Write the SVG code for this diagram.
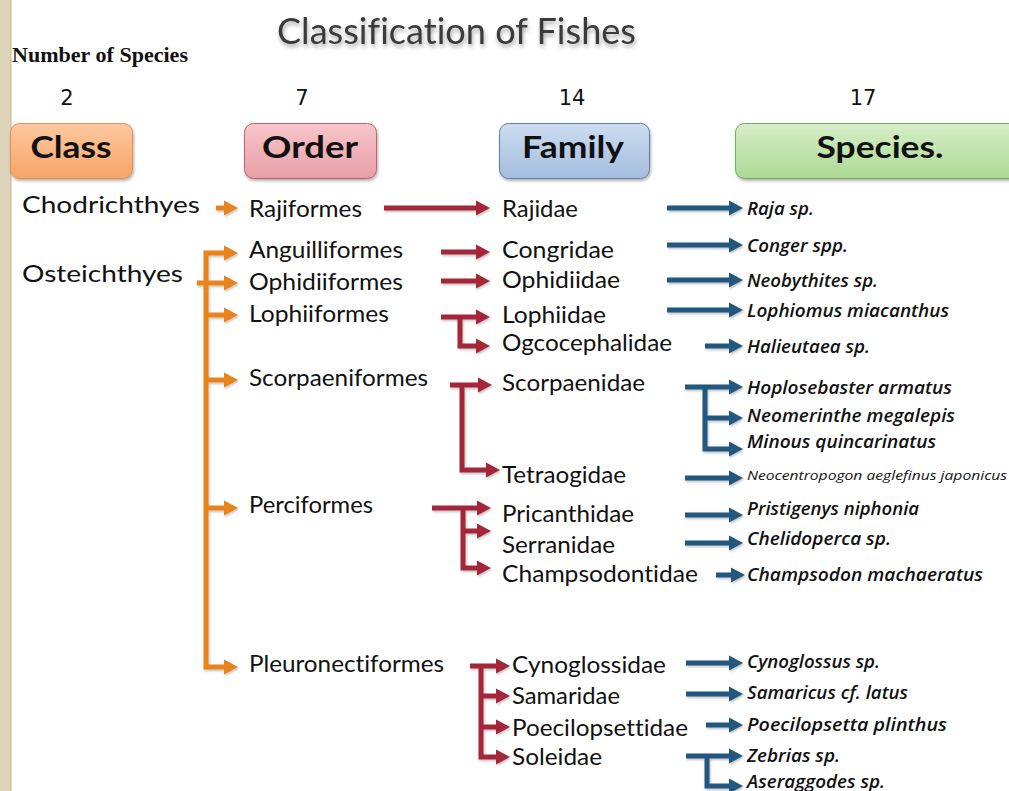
<svg xmlns="http://www.w3.org/2000/svg" width="1009" height="791" viewBox="0 0 1009 791">
<defs>
<style>
text{font-variant-ligatures:none;font-feature-settings:"liga" 0,"clig" 0}
.t{font-family:Lato,"Liberation Sans",sans-serif;font-size:24px;fill:#111}
.sp{font-family:"Open Sans","Liberation Sans",sans-serif;font-style:italic;font-weight:600;font-size:18px;fill:#111}
.hd{font-family:Lato,"Liberation Sans",sans-serif;font-weight:bold;font-size:30px;fill:#111;text-anchor:middle}
.num{font-family:"DejaVu Sans","Liberation Sans",sans-serif;font-size:21px;fill:#111;text-anchor:middle}
.o,.r,.b{fill:none;stroke-width:5;stroke-linejoin:miter}
.o{stroke:#e8841f;marker-end:url(#ao)}
.r{stroke:#a3283a;marker-end:url(#ar)}
.b{stroke:#22597f;marker-end:url(#ab)}
</style>
<marker id="ao" markerUnits="userSpaceOnUse" viewBox="-1 -8 15 16" markerWidth="15" markerHeight="16" refX="0" refY="0" orient="auto"><path d="M-1,-7.5 L13,0 L-1,7.5 z" fill="#e8841f"/></marker>
<marker id="ar" markerUnits="userSpaceOnUse" viewBox="-1 -8 15 16" markerWidth="15" markerHeight="16" refX="0" refY="0" orient="auto"><path d="M-1,-7.5 L13,0 L-1,7.5 z" fill="#a3283a"/></marker>
<marker id="ab" markerUnits="userSpaceOnUse" viewBox="-1 -8 15 16" markerWidth="15" markerHeight="16" refX="0" refY="0" orient="auto"><path d="M-1,-7.5 L13,0 L-1,7.5 z" fill="#22597f"/></marker>
<linearGradient id="gC" x1="0" y1="0" x2="0" y2="1"><stop offset="0" stop-color="#fdc8a0"/><stop offset="1" stop-color="#f7a467"/></linearGradient>
<linearGradient id="gO" x1="0" y1="0" x2="0" y2="1"><stop offset="0" stop-color="#f7c6ca"/><stop offset="1" stop-color="#e99ea7"/></linearGradient>
<linearGradient id="gF" x1="0" y1="0" x2="0" y2="1"><stop offset="0" stop-color="#cddcef"/><stop offset="1" stop-color="#a3bde0"/></linearGradient>
<linearGradient id="gS" x1="0" y1="0" x2="0" y2="1"><stop offset="0" stop-color="#d7eec8"/><stop offset="1" stop-color="#acd993"/></linearGradient>
<filter id="sh" x="-10%" y="-20%" width="120%" height="150%"><feDropShadow dx="1" dy="2" stdDeviation="1.5" flood-color="#000" flood-opacity="0.3"/></filter>
<filter id="tsh" x="-5%" y="-30%" width="110%" height="170%"><feDropShadow dx="1" dy="3" stdDeviation="2" flood-color="#000" flood-opacity="0.35"/></filter>
<filter id="ash" x="-10%" y="-10%" width="120%" height="120%"><feDropShadow dx="1" dy="1.5" stdDeviation="1" flood-color="#000" flood-opacity="0.25"/></filter>
</defs>
<rect width="1009" height="791" fill="#fff"/>
<rect x="0" y="0" width="11" height="791" fill="#ddd4ba"/>
<rect x="10" y="0" width="2" height="791" fill="#c9bfa3" opacity="0.6"/>

<text x="277" y="44" font-family="Lato,'Liberation Sans',sans-serif" font-size="37" fill="#3b3b3b" textLength="359" lengthAdjust="spacingAndGlyphs" filter="url(#tsh)">Classification of Fishes</text>
<text x="12" y="62" font-family="'Liberation Serif',serif" font-weight="bold" font-size="21" fill="#111" textLength="176" lengthAdjust="spacingAndGlyphs">Number of Species</text>
<text class="num" x="67" y="105">2</text>
<text class="num" x="302" y="105">7</text>
<text class="num" x="572" y="105">14</text>
<text class="num" x="863" y="105">17</text>

<g id="hdr-class"><rect x="10.5" y="123.5" width="122" height="55" rx="9" fill="url(#gC)" stroke="#e38f56" filter="url(#sh)"/><text class="hd" x="71" y="158" textLength="81" lengthAdjust="spacingAndGlyphs">Class</text></g>
<g id="hdr-order"><rect x="244.5" y="123.5" width="132" height="55" rx="9" fill="url(#gO)" stroke="#b8646e" filter="url(#sh)"/><text class="hd" x="310" y="158" textLength="96" lengthAdjust="spacingAndGlyphs">Order</text></g>
<g id="hdr-family"><rect x="499.5" y="123.5" width="150" height="55" rx="9" fill="url(#gF)" stroke="#5f7fa8" filter="url(#sh)"/><text class="hd" x="573" y="158" textLength="102" lengthAdjust="spacingAndGlyphs">Family</text></g>
<g id="hdr-species"><rect x="735.5" y="123.5" width="300" height="55" rx="9" fill="url(#gS)" stroke="#79a766" filter="url(#sh)"/><text class="hd" x="880" y="158" textLength="127" lengthAdjust="spacingAndGlyphs">Species.</text></g>

<g id="connectors" filter="url(#ash)">
<path class="o" d="M216,208 H225"/>
<path class="o" d="M197,283 H225"/>
<path class="o" d="M206,283 V253 H225"/>
<path class="o" d="M206,283 V667 H225"/>
<path class="o" d="M206,315 H225"/>
<path class="o" d="M206,380 H225"/>
<path class="o" d="M206,508 H225"/>

<path class="r" d="M384,208 H477"/>
<path class="r" d="M441,252 H477"/>
<path class="r" d="M441,281 H477"/>
<path class="r" d="M441,317 H477"/>
<path class="r" d="M460,317 V346 H477"/>
<path class="r" d="M450,385 H479"/>
<path class="r" d="M462,385 V470 H487"/>
<path class="r" d="M432,508 H478"/>
<path class="r" d="M463,508 V568 H478"/>
<path class="r" d="M463,531 H478"/>
<path class="r" d="M470,666 H497"/>
<path class="r" d="M481,666 V757 H497"/>
<path class="r" d="M481,696 H497"/>
<path class="r" d="M481,727 H497"/>

<path class="b" d="M667,208 H730"/>
<path class="b" d="M667,245 H730"/>
<path class="b" d="M667,280 H730"/>
<path class="b" d="M667,310 H730"/>
<path class="b" d="M705,346 H730"/>
<path class="b" d="M685,387 H730"/>
<path class="b" d="M705,387 V449 H730"/>
<path class="b" d="M705,418 H730"/>
<path class="b" d="M685,478 H730"/>
<path class="b" d="M685,515 H730"/>
<path class="b" d="M685,543 H730"/>
<path class="b" d="M716,575 H732"/>
<path class="b" d="M686,663 H730"/>
<path class="b" d="M686,694 H730"/>
<path class="b" d="M706,725 H730"/>
<path class="b" d="M686,756 H730"/>
<path class="b" d="M707,756 V786 H730"/>
</g>

<g id="class-chodrichthyes"><text class="t" x="22" y="213" textLength="178" lengthAdjust="spacingAndGlyphs">Chodrichthyes</text></g>
<g id="class-osteichthyes"><text class="t" x="22" y="282" textLength="161" lengthAdjust="spacingAndGlyphs">Osteichthyes</text></g>

<g id="order-rajiformes"><text class="t" x="249" y="217" textLength="113" lengthAdjust="spacingAndGlyphs">Rajiformes</text></g>
<g id="order-anguilliformes"><text class="t" x="249" y="258" textLength="154" lengthAdjust="spacingAndGlyphs">Anguilliformes</text></g>
<g id="order-ophidiiformes"><text class="t" x="249" y="290" textLength="154" lengthAdjust="spacingAndGlyphs">Ophidiiformes</text></g>
<g id="order-lophiiformes"><text class="t" x="249" y="322" textLength="140" lengthAdjust="spacingAndGlyphs">Lophiiformes</text></g>
<g id="order-scorpaeniformes"><text class="t" x="249" y="386" textLength="179" lengthAdjust="spacingAndGlyphs">Scorpaeniformes</text></g>
<g id="order-perciformes"><text class="t" x="249" y="513" textLength="124" lengthAdjust="spacingAndGlyphs">Perciformes</text></g>
<g id="order-pleuronectiformes"><text class="t" x="249" y="672" textLength="195" lengthAdjust="spacingAndGlyphs">Pleuronectiformes</text></g>

<g id="fam-rajidae"><text class="t" x="502" y="217" textLength="76" lengthAdjust="spacingAndGlyphs">Rajidae</text></g>
<g id="fam-congridae"><text class="t" x="502" y="258" textLength="112" lengthAdjust="spacingAndGlyphs">Congridae</text></g>
<g id="fam-ophidiidae"><text class="t" x="502" y="288" textLength="118" lengthAdjust="spacingAndGlyphs">Ophidiidae</text></g>
<g id="fam-lophiidae"><text class="t" x="502" y="323" textLength="104" lengthAdjust="spacingAndGlyphs">Lophiidae</text></g>
<g id="fam-ogcocephalidae"><text class="t" x="502" y="351" textLength="170" lengthAdjust="spacingAndGlyphs">Ogcocephalidae</text></g>
<g id="fam-scorpaenidae"><text class="t" x="502" y="391" textLength="143" lengthAdjust="spacingAndGlyphs">Scorpaenidae</text></g>
<g id="fam-tetraogidae"><text class="t" x="502" y="483" textLength="124" lengthAdjust="spacingAndGlyphs">Tetraogidae</text></g>
<g id="fam-pricanthidae"><text class="t" x="502" y="522" textLength="132" lengthAdjust="spacingAndGlyphs">Pricanthidae</text></g>
<g id="fam-serranidae"><text class="t" x="502" y="553" textLength="113" lengthAdjust="spacingAndGlyphs">Serranidae</text></g>
<g id="fam-champsodontidae"><text class="t" x="502" y="582" textLength="196" lengthAdjust="spacingAndGlyphs">Champsodontidae</text></g>
<g id="fam-cynoglossidae"><text class="t" x="512" y="673" textLength="154" lengthAdjust="spacingAndGlyphs">Cynoglossidae</text></g>
<g id="fam-samaridae"><text class="t" x="512" y="704" textLength="108" lengthAdjust="spacingAndGlyphs">Samaridae</text></g>
<g id="fam-poecilopsettidae"><text class="t" x="512" y="736" textLength="176" lengthAdjust="spacingAndGlyphs">Poecilopsettidae</text></g>
<g id="fam-soleidae"><text class="t" x="512" y="765" textLength="90" lengthAdjust="spacingAndGlyphs">Soleidae</text></g>

<g id="sp-raja"><text class="sp" x="747" y="215" textLength="67" lengthAdjust="spacingAndGlyphs">Raja sp.</text></g>
<g id="sp-conger"><text class="sp" x="747" y="252" textLength="101" lengthAdjust="spacingAndGlyphs">Conger spp.</text></g>
<g id="sp-neobythites"><text class="sp" x="747" y="287" textLength="131" lengthAdjust="spacingAndGlyphs">Neobythites sp.</text></g>
<g id="sp-lophiomus"><text class="sp" x="747" y="317" textLength="202" lengthAdjust="spacingAndGlyphs">Lophiomus miacanthus</text></g>
<g id="sp-halieutaea"><text class="sp" x="747" y="353" textLength="123" lengthAdjust="spacingAndGlyphs">Halieutaea sp.</text></g>
<g id="sp-hoplosebaster"><text class="sp" x="747" y="394" textLength="205" lengthAdjust="spacingAndGlyphs">Hoplosebaster armatus</text></g>
<g id="sp-neomerinthe"><text class="sp" x="747" y="422" textLength="208" lengthAdjust="spacingAndGlyphs">Neomerinthe megalepis</text></g>
<g id="sp-minous"><text class="sp" x="747" y="448" textLength="189" lengthAdjust="spacingAndGlyphs">Minous quincarinatus</text></g>
<g id="sp-neocentropogon"><text x="747" y="480" font-family="'Open Sans','Liberation Sans',sans-serif" font-style="italic" font-size="13" fill="#111" textLength="260" lengthAdjust="spacingAndGlyphs">Neocentropogon aeglefinus japonicus</text></g>
<g id="sp-pristigenys"><text class="sp" x="747" y="515" textLength="172" lengthAdjust="spacingAndGlyphs">Pristigenys niphonia</text></g>
<g id="sp-chelidoperca"><text class="sp" x="747" y="545" textLength="144" lengthAdjust="spacingAndGlyphs">Chelidoperca sp.</text></g>
<g id="sp-champsodon"><text class="sp" x="747" y="581" textLength="236" lengthAdjust="spacingAndGlyphs">Champsodon machaeratus</text></g>
<g id="sp-cynoglossus"><text class="sp" x="747" y="668" textLength="133" lengthAdjust="spacingAndGlyphs">Cynoglossus sp.</text></g>
<g id="sp-samaricus"><text class="sp" x="747" y="699" textLength="161" lengthAdjust="spacingAndGlyphs">Samaricus cf. latus</text></g>
<g id="sp-poecilopsetta"><text class="sp" x="747" y="731" textLength="200" lengthAdjust="spacingAndGlyphs">Poecilopsetta plinthus</text></g>
<g id="sp-zebrias"><text class="sp" x="747" y="762" textLength="93" lengthAdjust="spacingAndGlyphs">Zebrias sp.</text></g>
<g id="sp-aseraggodes"><text class="sp" x="747" y="788" textLength="138" lengthAdjust="spacingAndGlyphs">Aseraggodes sp.</text></g>
</svg>
